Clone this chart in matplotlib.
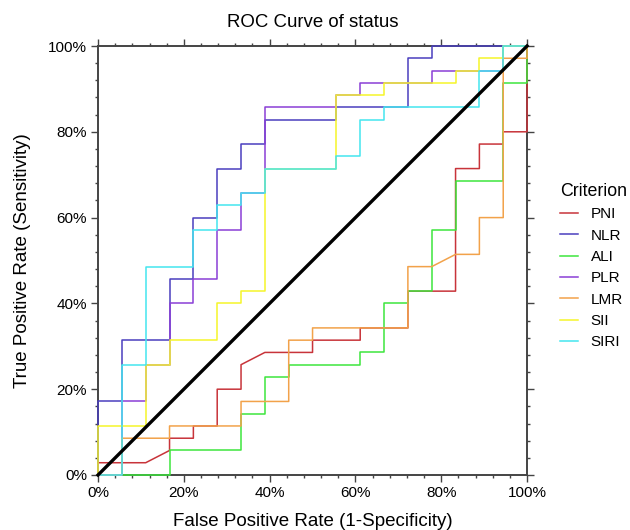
import matplotlib
matplotlib.use('Agg')
import matplotlib.pyplot as plt
from matplotlib.ticker import MultipleLocator, PercentFormatter

'''
ROC curves of status, one step curve per criterion
'''

# 18 negatives, 35 positives: curve points stored as counts (false pos, true pos)
n_neg = 18
n_pos = 35

criteria = ['PNI', 'NLR', 'ALI', 'PLR', 'LMR', 'SII', 'SIRI']
colors = ['#c8343a', '#4a3fbf', '#3de63d', '#8a3fd6', '#f2a24a', '#f5f52a', '#44e6ef']

pni_fp = [0, 0, 2, 3, 3, 4, 4, 5, 5, 6, 6, 7, 9, 9, 11, 11, 13, 13, 15, 15, 16, 16, 17, 17, 18, 18]
pni_tp = [0, 1, 1, 2, 3, 3, 4, 4, 7, 7, 9, 10, 10, 11, 11, 12, 12, 15, 15, 25, 25, 27, 27, 28, 28, 35]

nlr_fp = [0, 0, 1, 1, 3, 3, 4, 4, 5, 5, 6, 6, 7, 7, 10, 10, 13, 13, 14, 14, 18]
nlr_tp = [0, 6, 6, 11, 11, 16, 16, 21, 21, 25, 25, 27, 27, 29, 29, 30, 30, 34, 34, 35, 35]

ali_fp = [0, 3, 3, 6, 6, 7, 7, 8, 8, 11, 11, 12, 12, 13, 13, 14, 14, 15, 15, 17, 17, 18, 18]
ali_tp = [0, 0, 2, 2, 5, 5, 8, 8, 9, 9, 10, 10, 14, 14, 15, 15, 20, 20, 24, 24, 32, 32, 35]

plr_fp = [0, 1, 1, 2, 2, 3, 3, 4, 4, 5, 5, 6, 6, 7, 7, 10, 10, 11, 11, 14, 14, 17, 17, 18]
plr_tp = [0, 0, 6, 6, 9, 9, 14, 14, 16, 16, 20, 20, 23, 23, 30, 30, 31, 31, 32, 32, 33, 33, 35, 35]

lmr_fp = [0, 1, 1, 3, 3, 6, 6, 8, 8, 9, 9, 13, 13, 14, 15, 16, 16, 17, 17, 18, 18]
lmr_tp = [0, 0, 3, 3, 4, 4, 6, 6, 11, 11, 12, 12, 17, 17, 18, 18, 21, 21, 34, 34, 35]

sii_fp = [0, 0, 2, 2, 3, 3, 5, 5, 6, 6, 7, 7, 10, 10, 12, 12, 15, 15, 16, 16, 17, 17, 18]
sii_tp = [0, 4, 4, 9, 9, 11, 11, 14, 14, 15, 15, 25, 25, 31, 31, 32, 32, 33, 33, 34, 34, 35, 35]

siri_fp = [0, 1, 1, 2, 2, 4, 4, 5, 5, 6, 6, 7, 7, 10, 10, 11, 11, 12, 12, 16, 16, 17, 17, 18]
siri_tp = [0, 0, 9, 9, 17, 17, 20, 20, 22, 22, 23, 23, 25, 25, 26, 26, 29, 29, 30, 30, 33, 33, 35, 35]

curves = [(pni_fp, pni_tp), (nlr_fp, nlr_tp), (ali_fp, ali_tp), (plr_fp, plr_tp),
          (lmr_fp, lmr_tp), (sii_fp, sii_tp), (siri_fp, siri_tp)]

plt.rcParams['font.family'] = ['Liberation Sans', 'DejaVu Sans']

fig = plt.figure(figsize=(6.3, 5.3), dpi=100)
ax = fig.add_axes([0.1556, 0.1038, 0.681, 0.8094])

for name, color, (fp, tp) in zip(criteria, colors, curves):
    fpr = [v / n_neg for v in fp]
    tpr = [v / n_pos for v in tp]
    ax.plot(fpr, tpr, color=color, lw=1.1, label=name, clip_on=False, zorder=3)

# reference line
ax.plot([0, 1], [0, 1], color='black', lw=2.4, clip_on=False, zorder=4)

ax.set_xlim(0, 1)
ax.set_ylim(0, 1)
for a in (ax.xaxis, ax.yaxis):
    a.set_major_locator(MultipleLocator(0.2))
    a.set_minor_locator(MultipleLocator(0.04))
    a.set_major_formatter(PercentFormatter(1.0, decimals=0))
ax.tick_params(which='both', direction='out', top=True, right=True, color='#444444',
               labelsize=11, width=1)
ax.tick_params(which='major', length=5, pad=3)
ax.tick_params(which='minor', length=2.5)
for s in ax.spines.values():
    s.set_color('#444444')
    s.set_linewidth(1.4)

ax.set_title('ROC Curve of status', fontsize=13.4, pad=14)
ax.set_xlabel('False Positive Rate (1-Specificity)', fontsize=13.5, labelpad=9)
ax.set_ylabel('True Positive Rate (Sensitivity)', fontsize=13.5, labelpad=12)

leg = ax.legend(title='Criterion', loc='center left', bbox_to_anchor=(1.045, 0.487),
                frameon=False, fontsize=11, title_fontsize=12.8, handlelength=1.2,
                handletextpad=0.8, labelspacing=0.48)
leg._legend_box.align = 'left'

fig.savefig('out.png', dpi=100)
